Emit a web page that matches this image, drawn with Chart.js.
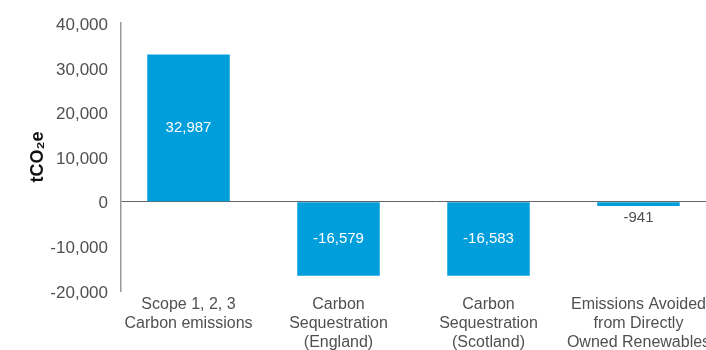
<!DOCTYPE html>
<html>
<head>
<meta charset="utf-8">
<script src="https://cdn.jsdelivr.net/npm/chart.js@4/dist/chart.umd.min.js"></script>
<style>
  html, body { margin: 0; padding: 0; background: #fff; }
  #wrap { width: 706px; height: 350px; overflow: hidden; }
  #inner { width: 760px; height: 350px; position: relative; }
</style>
</head>
<body>
<div id="wrap"><div id="inner"><canvas id="emissionsChart"></canvas></div></div>
<script>
// categories (one array entry per label line)
const categories = [
    ['Scope 1, 2, 3', 'Carbon emissions'],
    ['Carbon', 'Sequestration', '(England)'],
    ['Carbon', 'Sequestration', '(Scotland)'],
    ['Emissions Avoided', 'from Directly', 'Owned Renewables']
];
const values = [32987, -16579, -16583, -941];

const yMin = -20000;
const yMax = 40000;
const yStep = 10000;

const barColor = '#009fdc';
const textColor = '#505050';
const fontFamily = "'Liberation Sans', Arial, Helvetica, sans-serif";

function formatNumber(n) {
    return n.toLocaleString('en-US');
}

// values written on the bars: white inside tall bars, grey under small ones
const barValueLabels = {
    id: 'barValueLabels',
    afterDatasetsDraw(chart) {
        const ctx = chart.ctx;
        const meta = chart.getDatasetMeta(0);
        ctx.save();
        ctx.font = '15px ' + fontFamily;
        ctx.textAlign = 'center';
        ctx.textBaseline = 'middle';
        meta.data.forEach((bar, i) => {
            const h = Math.abs(bar.base - bar.y);
            if (h > 30) {
                ctx.fillStyle = '#ffffff';
                ctx.fillText(formatNumber(values[i]), bar.x, (bar.y + bar.base) / 2);
            } else {
                ctx.fillStyle = textColor;
                const edge = Math.max(bar.y, bar.base);
                ctx.fillText(formatNumber(values[i]), bar.x, edge + 12);
            }
        });
        ctx.restore();
    }
};

const ctx = document.getElementById('emissionsChart').getContext('2d');
const emissionsChart = new Chart(ctx, {
    type: 'bar',
    data: {
        datasets: [{
            data: values.map((v, i) => ({ x: i, y: v })),
            backgroundColor: barColor,
            borderWidth: 0,
            barPercentage: 0.55,
            categoryPercentage: 1.0
        }]
    },
    options: {
        responsive: true,
        maintainAspectRatio: false,
        animation: false,
        layout: {
            padding: { top: 20, right: 9, bottom: 0, left: 0 }
        },
        scales: {
            x: {
                type: 'linear',
                offset: false,
                min: -0.45,
                max: 3.75,
                grid: { display: false, drawTicks: false, offset: false },
                border: { display: false },
                afterFit: (scale) => { scale.height = 59; },
                ticks: {
                    stepSize: 1,
                    includeBounds: false,
                    autoSkip: false,
                    maxRotation: 0,
                    padding: 4,
                    color: textColor,
                    font: { family: fontFamily, size: 16, lineHeight: 1.2 },
                    callback: (v) => Number.isInteger(v) && categories[v] ? categories[v] : ''
                }
            },
            y: {
                min: yMin,
                max: yMax,
                afterFit: (scale) => { scale.width = 121; },
                border: { display: true, color: '#999999', width: 1.5 },
                grid: {
                    drawTicks: false,
                    color: (c) => c.tick && c.tick.value === 0 ? '#666666' : 'rgba(0,0,0,0)',
                    lineWidth: 1
                },
                ticks: {
                    stepSize: yStep,
                    padding: 13,
                    labelOffset: 2,
                    color: textColor,
                    font: { family: fontFamily, size: 17 },
                    callback: (v) => formatNumber(v)
                },
                title: {
                    display: true,
                    text: 'tCO₂e',
                    color: '#111111',
                    font: { family: fontFamily, size: 18, weight: 'bold' },
                    padding: { top: 27, bottom: 0 }
                }
            }
        },
        plugins: {
            legend: { display: false },
            tooltip: { enabled: false }
        }
    },
    plugins: [barValueLabels]
});
</script>
</body>
</html>
